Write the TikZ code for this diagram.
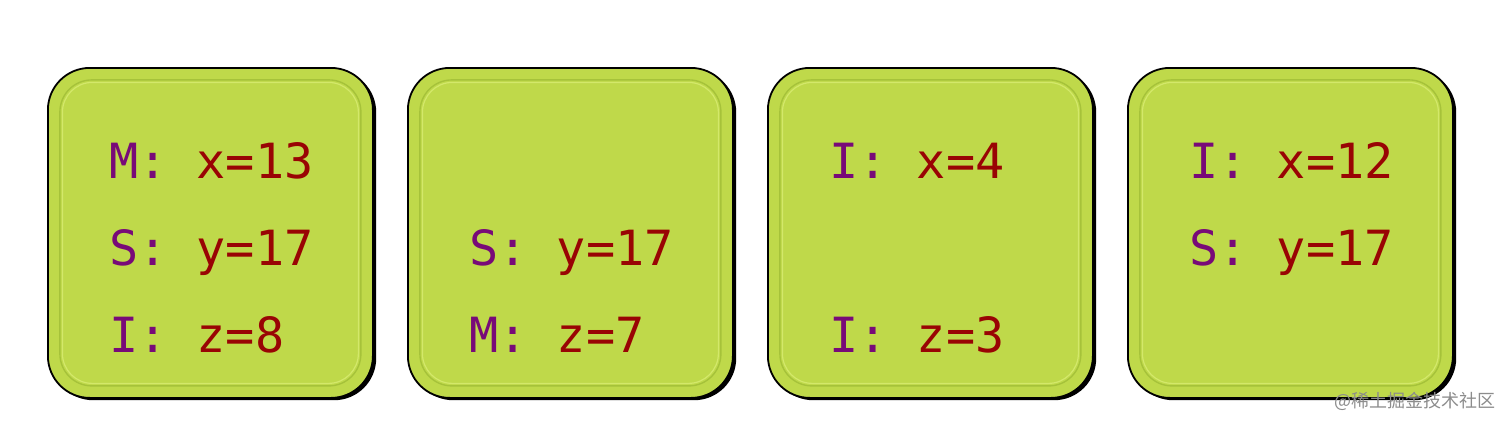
\documentclass[tikz,border=0pt]{standalone}
\usepackage{fontspec}
\setmonofont{DejaVu Sans Mono}
\newfontfamily\cjk{Noto Sans CJK SC}
\definecolor{limefill}{HTML}{BFD94A}
\definecolor{bevdark}{HTML}{A6C23A}
\definecolor{bevlight}{HTML}{D3E86A}
\definecolor{labpurple}{HTML}{780A78}
\definecolor{valred}{HTML}{990404}
\tikzset{
  card/.style={draw=black, line width=1.8pt, fill=limefill, rounded corners=42pt,
    minimum width=325pt, minimum height=330pt, inner sep=0pt, anchor=north west},
  cardshadow/.style={fill=black, rounded corners=42pt, draw=none,
    minimum width=325pt, minimum height=330pt, inner sep=0pt, anchor=north west},
  bevelA/.style={draw=bevdark, line width=1.4pt, rounded corners=32pt,
    minimum width=301pt, minimum height=306pt, inner sep=0pt},
  bevelB/.style={draw=bevlight, line width=1.2pt, rounded corners=30pt,
    minimum width=296pt, minimum height=301pt, inner sep=0pt},
  txt/.style={anchor=base west, inner sep=0pt, font=\ttfamily\fontsize{48.5}{48.5}\selectfont},
}
\newcommand{\entry}[2]{\textcolor{labpurple}{#1:} \textcolor{valred}{#2}}
\begin{document}
\begin{tikzpicture}[x=1pt,y=-1pt]
\useasboundingbox (0,0) rectangle (1512,426);
\foreach \i/\bx in {1/47,2/407,3/767,4/1127}{
  \node[cardshadow] (sh\i) at (\bx+4,67+3) {};
  \node[card] (box\i) at (\bx,67) {};
  \node[bevelA] (bevA\i) at (box\i.center) {};
  \node[bevelB] (bevB\i) at (box\i.center) {};
}
% line baselines: 178, 265, 352 ; text left = box left + 63
\node[txt] (t11) at (109,178) {\entry{M}{x=13}};
\node[txt] (t12) at (109,265) {\entry{S}{y=17}};
\node[txt] (t13) at (109,352) {\entry{I}{z=8}};
\node[txt] (t22) at (469,265) {\entry{S}{y=17}};
\node[txt] (t23) at (469,352) {\entry{M}{z=7}};
\node[txt] (t31) at (829,178) {\entry{I}{x=4}};
\node[txt] (t33) at (829,352) {\entry{I}{z=3}};
\node[txt] (t41) at (1189,178) {\entry{I}{x=12}};
\node[txt] (t42) at (1189,265) {\entry{S}{y=17}};
\node[anchor=east, inner sep=0pt, text=black!45, font=\cjk\fontsize{18}{18}\selectfont] (wm) at (1496,401) {@稀土掘金技术社区};
\end{tikzpicture}
\end{document}
